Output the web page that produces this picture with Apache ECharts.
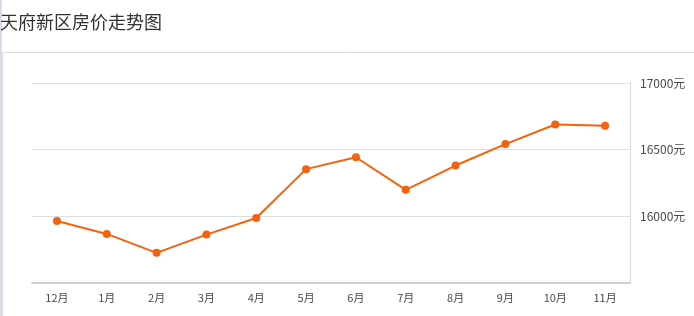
<!DOCTYPE html>
<html><head><meta charset="utf-8">
<script src="https://cdn.jsdelivr.net/npm/echarts@6/dist/echarts.min.js"></script>
<style>html,body{margin:0;padding:0;background:#fff}#c{width:694px;height:316px}</style>
</head><body><div id="c"></div>
<script>
const titleText = '天府新区房价走势图';
const categories = ['12月','1月','2月','3月','4月','5月','6月','7月','8月','9月','10月','11月'];
const prices = [15965, 15868, 15726, 15863, 15987, 16354, 16443, 16199, 16381, 16542, 16689, 16679];
const yMin = 15500, yMax = 17000, yStep = 500;

const chart = echarts.init(document.getElementById('c'), null, {renderer: 'canvas'});
chart.setOption({
  animation: false,
  backgroundColor: '#fff',
  title: {
    text: titleText, left: 0, top: 13, padding: 0,
    textStyle: {fontFamily: '"Noto Sans CJK SC", sans-serif', fontSize: 18, fontWeight: 'normal', color: '#333'}
  },
  graphic: [
    {type: 'rect', left: 0, top: 0, shape: {width: 2, height: 316}, style: {fill: '#d2deec'}, silent: true},
    {type: 'line', shape: {x1: 2.5, y1: 316, x2: 2.5, y2: 52.5}, style: {stroke: '#dcdcdc', lineWidth: 1}, silent: true},
    {type: 'line', shape: {x1: 2.5, y1: 52.5, x2: 694, y2: 52.5}, style: {stroke: '#dcdcdc', lineWidth: 1}, silent: true}
  ],
  grid: {left: 32, right: 64, top: 83, bottom: 33},
  xAxis: {
    type: 'category', data: categories, boundaryGap: true,
    axisLine: {lineStyle: {color: '#d0d0d0', width: 2}},
    axisTick: {alignWithLabel: true, length: 4, lineStyle: {color: '#d8d8d8'}},
    axisLabel: {color: '#4a4a4a', fontSize: 11, margin: 9, fontFamily: '"Noto Sans CJK SC", sans-serif'},
    splitLine: {show: false}
  },
  yAxis: {
    type: 'value', position: 'right', min: yMin, max: yMax, interval: yStep,
    axisLine: {show: true, lineStyle: {color: '#d8d8d8', width: 1}},
    axisTick: {show: false},
    axisLabel: {formatter: function (v) { return v + '元'; }, color: '#4a4a4a', fontSize: 12, margin: 10, showMinLabel: false,
      fontFamily: '"Noto Sans CJK SC", sans-serif'},
    splitLine: {show: true, lineStyle: {color: '#dedede'}}
  },
  series: [{
    type: 'line', data: prices,
    symbol: 'circle', symbolSize: 8,
    lineStyle: {color: '#f4620e', width: 2},
    itemStyle: {color: '#f4620e'}
  }]
});
</script></body></html>
